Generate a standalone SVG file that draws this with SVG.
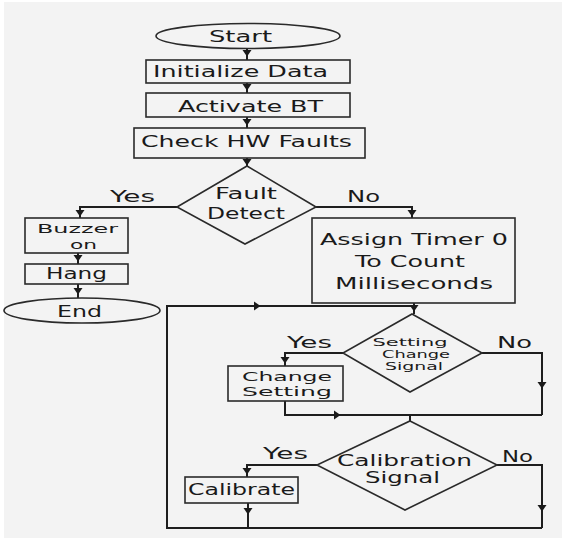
<svg xmlns="http://www.w3.org/2000/svg" xmlns:xlink="http://www.w3.org/1999/xlink" width="562" height="538" viewBox="0 0 562 538">
<style>
.n{fill:none;stroke:#2a2a2a;stroke-width:1.6}
.c{fill:none;stroke:#1e1e1e;stroke-width:2}
.t{font-family:"DejaVu Sans","Verdana",sans-serif;font-size:16px;fill:#1a1a1a;text-anchor:middle}
.m{font-size:14px}
.k{font-size:13px}
.s{font-size:11px}
.a{fill:#1a1a1a}
</style>
<defs>
<path id="ad" d="M-4.5,-3 L4.5,-3 L0,3.5 Z"/>
<path id="ar" d="M-3,-4.5 L-3,4.5 L3.5,0 Z"/>
</defs>
<rect x="0" y="0" width="562" height="538" fill="#ffffff"/>
<rect x="4" y="2" width="558" height="536" fill="#f3f3f3"/>

<g id="connectors">
<path class="c" d="M247,48 V60 M247,83 V93 M247,117 V128 M247,158 V166"/>
<path class="c" d="M177,207 H80 V218 M316,207 H412 V218"/>
<path class="c" d="M78,253 V264 M78,284 V298"/>
<path class="c" d="M414,303 V314"/>
<path class="c" d="M542,528 H167 V306 H414"/>
<path class="c" d="M343,353 H285 V366 M482,353 H542 V415 M285,401 V415 H542 M410,415 V421"/>
<path class="c" d="M317,465 H247 V477 M497,465 H542 V528 M248,503 V528"/>
<g class="a">
<use xlink:href="#ad" x="247" y="53"/>
<use xlink:href="#ad" x="247" y="87"/>
<use xlink:href="#ad" x="247" y="122"/>
<use xlink:href="#ad" x="247" y="162"/>
<use xlink:href="#ad" x="80" y="213"/>
<use xlink:href="#ad" x="412" y="213"/>
<use xlink:href="#ad" x="78" y="258"/>
<use xlink:href="#ad" x="78" y="291"/>
<use xlink:href="#ad" x="414" y="308"/>
<use xlink:href="#ar" x="257" y="306"/>
<use xlink:href="#ad" x="285" y="360"/>
<use xlink:href="#ad" x="542" y="385"/>
<use xlink:href="#ar" x="337" y="415"/>
<use xlink:href="#ad" x="247" y="471"/>
<use xlink:href="#ad" x="542" y="508"/>
<use xlink:href="#ad" x="248" y="511"/>
</g>
<g class="t">
<text x="132.5" y="202" textLength="45" lengthAdjust="spacingAndGlyphs">Yes</text>
<text x="363.5" y="202" textLength="33" lengthAdjust="spacingAndGlyphs">No</text>
<text x="309.5" y="348" textLength="45" lengthAdjust="spacingAndGlyphs">Yes</text>
<text x="514.5" y="348" textLength="35" lengthAdjust="spacingAndGlyphs">No</text>
<text x="285.5" y="459" textLength="45" lengthAdjust="spacingAndGlyphs">Yes</text>
<text x="517.5" y="462" textLength="31" lengthAdjust="spacingAndGlyphs">No</text>
</g>
</g>

<g id="start">
<ellipse class="n" cx="248" cy="36" rx="92" ry="12.5"/>
<text class="t" x="240.5" y="42" textLength="63" lengthAdjust="spacingAndGlyphs">Start</text>
</g>
<g id="init">
<rect class="n" x="146" y="60" width="204" height="23"/>
<text class="t" x="240.5" y="77" textLength="175" lengthAdjust="spacingAndGlyphs">Initialize Data</text>
</g>
<g id="activate">
<rect class="n" x="146" y="93" width="204" height="24"/>
<text class="t" x="250.5" y="112" textLength="145" lengthAdjust="spacingAndGlyphs">Activate BT</text>
</g>
<g id="check">
<rect class="n" x="134" y="128" width="231" height="30"/>
<text class="t" x="246.5" y="147" textLength="211" lengthAdjust="spacingAndGlyphs">Check HW Faults</text>
</g>
<g id="fault">
<polygon class="n" points="247,166 316,207 245,244 177,207"/>
<text class="t" x="246" y="199" textLength="62" lengthAdjust="spacingAndGlyphs">Fault</text>
<text class="t" x="246" y="219" textLength="78" lengthAdjust="spacingAndGlyphs">Detect</text>
</g>
<g id="buzzer">
<rect class="n" x="25" y="218" width="103" height="35"/>
<text class="t k" x="77.5" y="233" textLength="81" lengthAdjust="spacingAndGlyphs">Buzzer</text>
<text class="t k" x="83.5" y="249" textLength="27" lengthAdjust="spacingAndGlyphs">on</text>
</g>
<g id="hang">
<rect class="n" x="25" y="264" width="103" height="20"/>
<text class="t" x="76.5" y="279" textLength="61" lengthAdjust="spacingAndGlyphs">Hang</text>
</g>
<g id="end">
<ellipse class="n" cx="82" cy="310.5" rx="78" ry="12.5"/>
<text class="t" x="79.5" y="317" textLength="45" lengthAdjust="spacingAndGlyphs">End</text>
</g>
<g id="assign">
<rect class="n" x="312" y="218" width="203" height="85"/>
<text class="t" x="414" y="245" textLength="188" lengthAdjust="spacingAndGlyphs">Assign Timer 0</text>
<text class="t" x="410" y="267" textLength="110" lengthAdjust="spacingAndGlyphs">To Count</text>
<text class="t" x="414" y="289" textLength="158" lengthAdjust="spacingAndGlyphs">Milliseconds</text>
</g>
<g id="setting">
<polygon class="n" points="412,314 482,353 410,392 343,353"/>
<text class="t s" x="410" y="346" textLength="75" lengthAdjust="spacingAndGlyphs">Setting</text>
<text class="t s" x="416" y="358" textLength="68" lengthAdjust="spacingAndGlyphs">Change</text>
<text class="t s" x="414" y="370" textLength="58" lengthAdjust="spacingAndGlyphs">Signal</text>
</g>
<g id="changesetting">
<rect class="n" x="228" y="366" width="115" height="35"/>
<text class="t k" x="287" y="381" textLength="90" lengthAdjust="spacingAndGlyphs">Change</text>
<text class="t k" x="287" y="396" textLength="90" lengthAdjust="spacingAndGlyphs">Setting</text>
</g>
<g id="calibration">
<polygon class="n" points="410,421 497,465 405,510 317,465"/>
<text class="t" x="404.5" y="466" textLength="135" lengthAdjust="spacingAndGlyphs" style="font-size:15px">Calibration</text>
<text class="t" x="402.5" y="483" textLength="75" lengthAdjust="spacingAndGlyphs" style="font-size:15px">Signal</text>
</g>
<g id="calibrate">
<rect class="n" x="185" y="477" width="113" height="26"/>
<text class="t" x="241.5" y="495" textLength="107" lengthAdjust="spacingAndGlyphs">Calibrate</text>
</g>
</svg>
